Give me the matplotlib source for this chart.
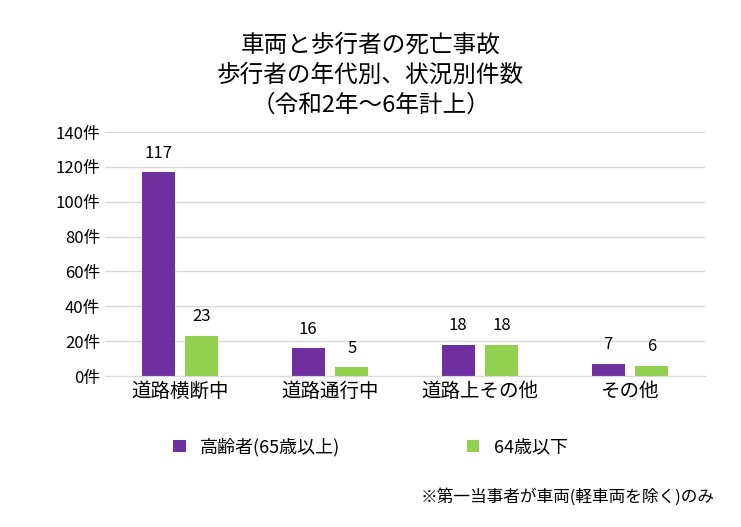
import matplotlib.pyplot as plt
import numpy as np

plt.rcParams['font.family'] = 'Noto Sans CJK JP'

categories = ['道路横断中', '道路通行中', '道路上その他', 'その他']
elderly = [117, 16, 18, 7]
younger = [23, 5, 18, 6]
yticks = [0, 20, 40, 60, 80, 100, 120, 140]

fig = plt.figure(figsize=(7.41, 5.27), dpi=100)
ax = fig.add_axes([0.142, 0.2865, 0.809, 0.463])

x = np.arange(len(categories))
w = 0.22
b1 = ax.bar(x - 0.145, elderly, w, color='#7030A0', label='高齢者(65歳以上)')
b2 = ax.bar(x + 0.145, younger, w, color='#92D050', label='64歳以下')
for bars, vals in ((b1, elderly), (b2, younger)):
    for r, v in zip(bars, vals):
        ax.text(r.get_x() + r.get_width() / 2, v + 6, str(v), ha='center', va='bottom', fontsize=12)

ax.set_ylim(0, 140)
ax.set_xlim(-0.5, 3.5)
ax.set_yticks(yticks)
ax.set_yticklabels([f'{t}件' for t in yticks], fontsize=12)
ax.set_xticks(x)
ax.set_xticklabels(categories, fontsize=14)
ax.tick_params(length=0)
ax.yaxis.grid(True, color='#d9d9d9', linewidth=1)
ax.set_axisbelow(True)
for s in ['top', 'right', 'left']:
    ax.spines[s].set_visible(False)
ax.spines['bottom'].set_color('#d9d9d9')

fig.text(0.5, 0.915, '車両と歩行者の死亡事故', ha='center', va='center', fontsize=17)
fig.text(0.5, 0.857, '歩行者の年代別、状況別件数', ha='center', va='center', fontsize=17)
fig.text(0.5, 0.800, '（令和2年～6年計上）', ha='center', va='center', fontsize=17)

fig.legend(handles=[b1, b2], loc='center', bbox_to_anchor=(0.5, 0.152), ncol=2,
           frameon=False, fontsize=13, handlelength=0.7, handleheight=0.7, columnspacing=7)
fig.text(0.965, 0.057, '※第一当事者が車両(軽車両を除く)のみ', ha='right', va='center', fontsize=12)

fig.savefig('out.png', dpi=100)
